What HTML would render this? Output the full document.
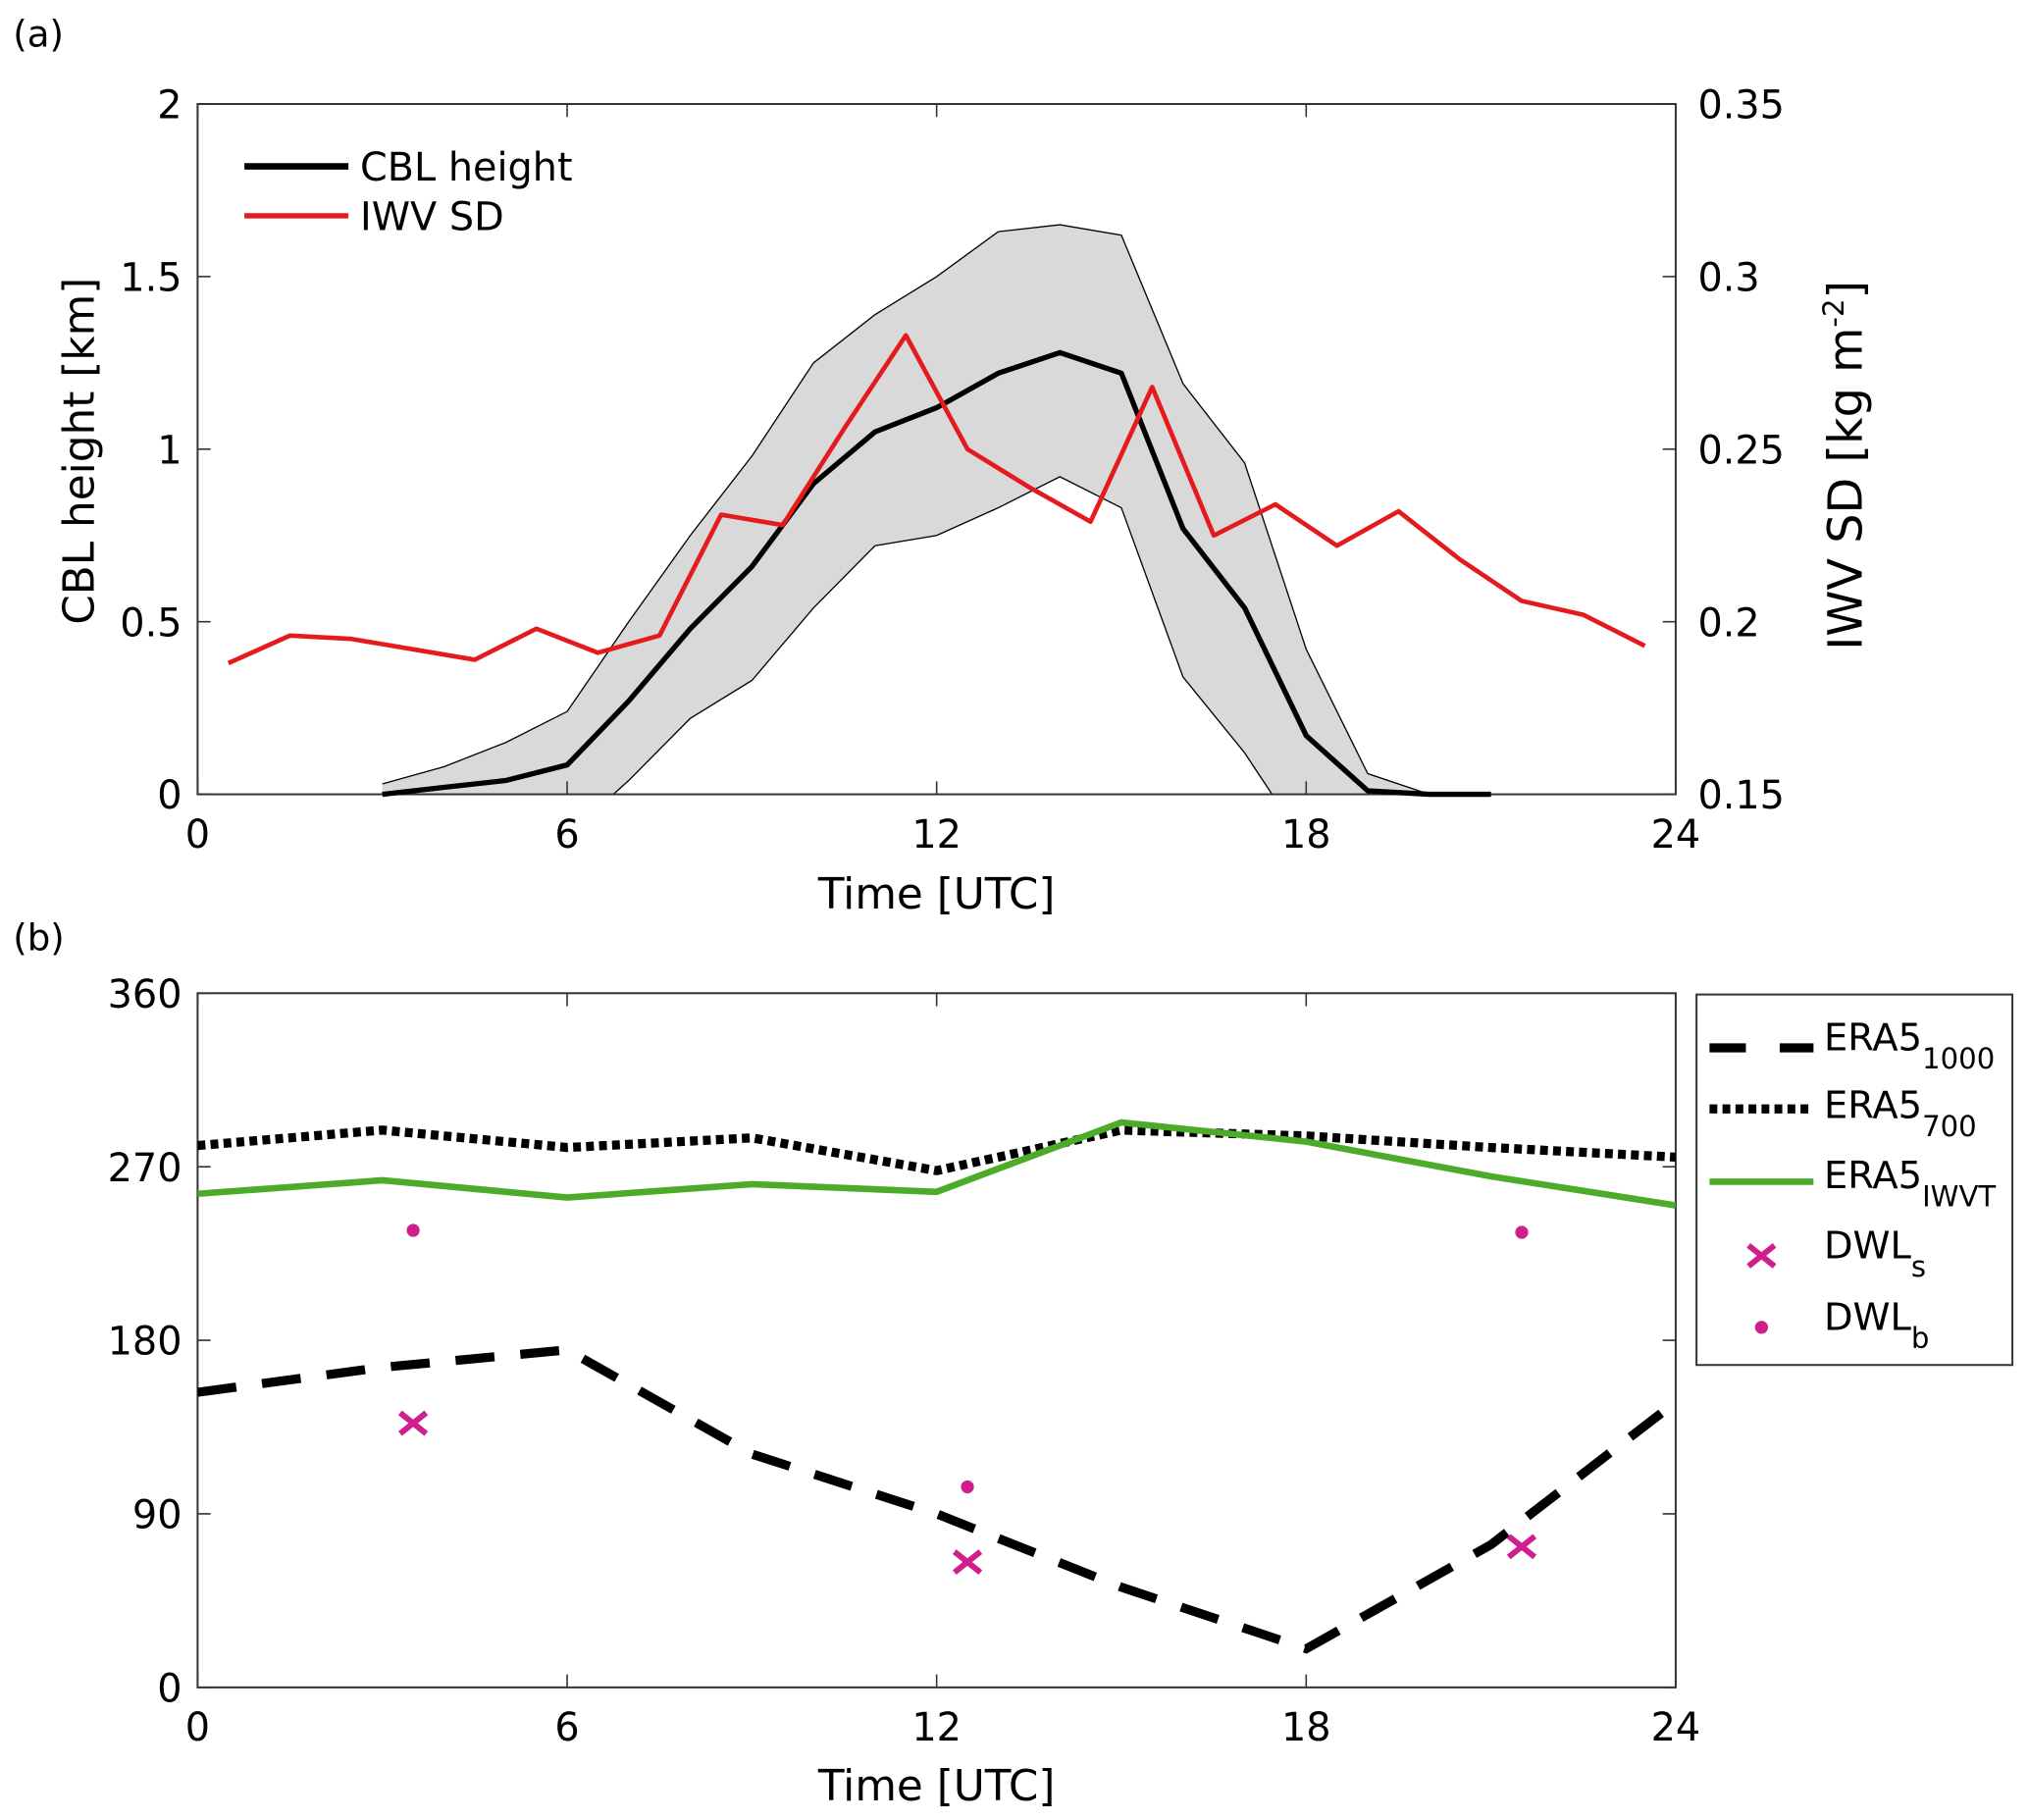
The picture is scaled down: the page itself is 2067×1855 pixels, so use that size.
<!DOCTYPE html>
<html><head><meta charset="utf-8"><style>
html,body{margin:0;padding:0;background:#fff;}
svg{display:block;font-family:"DejaVu Sans","Liberation Sans",sans-serif;}
</style></head><body>
<svg id="fig" xmlns="http://www.w3.org/2000/svg" width="2067" height="1855" viewBox="0 0 1560 1400">
<defs>
<clipPath id="clipA"><rect x="152" y="80" width="1137" height="531"/></clipPath>
<clipPath id="clipB"><rect x="152" y="764" width="1137" height="534"/></clipPath>
</defs>
<rect width="1560" height="1400" fill="#fff"/>
<text x="10" y="36" font-size="28">(a)</text>
<text x="10" y="731" font-size="28">(b)</text>
<g id="gA"></g>
<g id="gB"></g>
</svg>
<script>
// Panel (a) data
const cblHours = [3,4,5,6,7,8,9,10,11,12,13,14,15,16,17,18,19,20,21];
const cblMean  = [0,0.02,0.04,0.085,0.27,0.48,0.66,0.9,1.05,1.12,1.22,1.28,1.22,0.77,0.54,0.17,0.01,0,0];
const cblUpper = [0.03,0.08,0.15,0.24,0.5,0.75,0.98,1.25,1.39,1.5,1.63,1.65,1.62,1.19,0.96,0.42,0.06,0,0];
const cblLower = [0,0,-0.05,-0.12,0.04,0.22,0.33,0.54,0.72,0.75,0.83,0.92,0.83,0.34,0.12,-0.15,-0.2,-0.2,-0.2];
const iwvHours = [0.5,1.5,2.5,3.5,4.5,5.5,6.5,7.5,8.5,9.5,10.5,11.5,12.5,13.5,14.5,15.5,16.5,17.5,18.5,19.5,20.5,21.5,22.5,23.5];
const iwvSD    = [0.188,0.196,0.195,0.192,0.189,0.198,0.191,0.196,0.231,0.228,0.256,0.283,0.250,0.239,0.229,0.268,0.225,0.234,0.222,0.232,0.218,0.206,0.202,0.193];
const xTicks = [0,6,12,18,24];
const yTicksA = [0,0.5,1,1.5,2];
const yTickLabelsA = ["0","0.5","1","1.5","2"];
const yTicksA2 = [0.15,0.2,0.25,0.3,0.35];
const yTickLabelsA2 = ["0.15","0.2","0.25","0.3","0.35"];
// Panel (b) data
const eraHours = [0,3,6,9,12,15,18,21,24];
const era1000 = [153,166,175,121,90,52,20,74,148];
const era700  = [281,289,280,285,268,289,286,280,275];
const eraIWVT = [256,263,254,261,257,293,283,265,250];
const dwlHours = [3.5,12.5,21.5];
const dwlS = [137,65,73];
const dwlB = [237,104,236];
const yTicksB = [0,90,180,270,360];

const NS="http://www.w3.org/2000/svg";
const L=152,R=1289;
const AT=80,AB=611,BT=764,BB=1298;
const x=h=>L+(R-L)*h/24;
const yA=v=>AB-(AB-AT)*v/2;
const yA2=v=>AB-(AB-AT)*(v-0.15)/0.2;
const yB=v=>BB-(BB-BT)*v/360;
function mk(tag,attrs,parent){const e=document.createElementNS(NS,tag);for(const k in attrs)e.setAttribute(k,attrs[k]);parent.appendChild(e);return e;}
function pts(xs,ys,fy){return xs.map((h,i)=>x(h).toFixed(1)+","+fy(ys[i]).toFixed(1)).join(" ");}

const gA=document.getElementById('gA'), gB=document.getElementById('gB');

// ---- Panel A ----
let band=mk('polygon',{points:pts(cblHours,cblUpper,yA)+" "+pts(cblHours.slice().reverse(),cblLower.slice().reverse(),yA),fill:'#d9d9d9',stroke:'none','clip-path':'url(#clipA)'},gA);


let up=mk('polyline',{points:pts(cblHours.slice(0,18),cblUpper.slice(0,18),yA),fill:'none',stroke:'#000','stroke-width':1,'clip-path':'url(#clipA)'},gA);


let lo=mk('polyline',{points:pts(cblHours,cblLower,yA),fill:'none',stroke:'#000','stroke-width':1,'clip-path':'url(#clipA)'},gA);


let fr=mk('rect',{x:L,y:AT,width:R-L,height:AB-AT,fill:'none',stroke:'#333','stroke-width':1.5},gA);


let cbl=mk('polyline',{points:pts(cblHours,cblMean,yA),fill:'none',stroke:'#000','stroke-width':4,'stroke-linejoin':'round'},gA);


let iwv=mk('polyline',{points:pts(iwvHours,iwvSD,yA2),fill:'none',stroke:'#e41a1c','stroke-width':3.5,'stroke-linejoin':'round'},gA);



function xAxis(g,yb,yt,lblY){
  xTicks.forEach(t=>{
    let l=mk('path',{d:`M${x(t)},${yb}v-10M${x(t)},${yt}v10`,stroke:'#333','stroke-width':1.2},g);
    
    
    let tx=mk('text',{x:x(t),y:yb+41,'font-size':30,'text-anchor':'middle'},g);tx.textContent=String(t);
    
    
  });
  let ti=mk('text',{x:x(12),y:lblY,'font-size':33,'text-anchor':'middle'},g);ti.textContent='Time [UTC]';
  
  
}
xAxis(gA,AB,AT,699);
yTicksA.forEach((t,i)=>{
  let l=mk('path',{d:`M${L},${yA(t)}h10`,stroke:'#333','stroke-width':1.2},gA);
  
  
  let tx=mk('text',{x:140,y:yA(t)+11,'font-size':30,'text-anchor':'end'},gA);tx.textContent=yTickLabelsA[i];
  
  
});
yTicksA2.forEach((t,i)=>{
  let l=mk('path',{d:`M${R},${yA2(t)}h-10`,stroke:'#333','stroke-width':1.2},gA);
  
  
  let tx=mk('text',{x:1306,y:yA2(t)+11,'font-size':30},gA);tx.textContent=yTickLabelsA2[i];
  
  
});
let yt=mk('text',{transform:'translate(72,347) rotate(-90)','font-size':33,'text-anchor':'middle'},gA);yt.textContent='CBL height [km]';


let yt2=mk('text',{transform:'translate(1432,358) rotate(-90)','font-size':36,'text-anchor':'middle'},gA);
yt2.innerHTML='IWV SD [kg m<tspan font-size="22" dy="-14">-2</tspan><tspan dy="14">]</tspan>';


// legend A
[[128,'#000','CBL height',5],[166,'#e41a1c','IWV SD',4]].forEach(([yy,c,txt,w])=>{
  let l=mk('line',{x1:188,x2:268,y1:yy,y2:yy,stroke:c,'stroke-width':w},gA);
  
  
  let t=mk('text',{x:277,y:yy+11,'font-size':30},gA);t.textContent=txt;
  
  
});

// ---- Panel B ----
let frB=mk('rect',{x:L,y:BT,width:R-L,height:BB-BT,fill:'none',stroke:'#333','stroke-width':1.5},gB);


let e7=mk('polyline',{points:pts(eraHours,era700,yB),fill:'none',stroke:'#000','stroke-width':7,'stroke-dasharray':'6 4','clip-path':'url(#clipB)'},gB);


let eI=mk('polyline',{points:pts(eraHours,eraIWVT,yB),fill:'none',stroke:'#4dab2a','stroke-width':5,'stroke-linejoin':'round','clip-path':'url(#clipB)'},gB);


let e1=mk('polyline',{points:pts(eraHours,era1000,yB),fill:'none',stroke:'#000','stroke-width':7,'stroke-dasharray':'30 20','clip-path':'url(#clipB)'},gB);


const mag='#d01f8c';
dwlHours.forEach((h,i)=>{
  const cx=x(h),cy=yB(dwlS[i]);
  let m=mk('path',{d:`M${cx-10},${cy-8}L${cx+10},${cy+8}M${cx-10},${cy+8}L${cx+10},${cy-8}`,stroke:mag,'stroke-width':4.5},gB);
  
  
  let d=mk('circle',{cx:cx,cy:yB(dwlB[i]),r:5,fill:mag},gB);
  
  
});
xAxis(gB,BB,BT,1385);
yTicksB.forEach(t=>{
  let l=mk('path',{d:`M${L},${yB(t)}h10M${R},${yB(t)}h-10`,stroke:'#333','stroke-width':1.2},gB);
  
  
  let tx=mk('text',{x:140,y:yB(t)+11,'font-size':30,'text-anchor':'end'},gB);tx.textContent=String(t);
  
  
});
// legend B
let lg=mk('g',{},gB);


let lb=mk('rect',{x:1305,y:765,width:243,height:285,fill:'#fff',stroke:'#333','stroke-width':1.5},lg);


const legY=[806,858,912,966,1021];
const legMain=['ERA5','ERA5','ERA5','DWL','DWL'];
const legSub=['1000','700','IWVT','s','b'];
let l1=mk('line',{x1:1315,x2:1395,y1:legY[0],y2:legY[0],stroke:'#000','stroke-width':7,'stroke-dasharray':'28 26'},lg);


let l2=mk('line',{x1:1315,x2:1395,y1:legY[1]-5,y2:legY[1]-5,stroke:'#000','stroke-width':7,'stroke-dasharray':'6 4'},lg);


let l3=mk('line',{x1:1315,x2:1395,y1:legY[2]-3,y2:legY[2]-3,stroke:'#4dab2a','stroke-width':5},lg);


let l4=mk('path',{d:`M1345,${legY[3]-8}L1365,${legY[3]+8}M1345,${legY[3]+8}L1365,${legY[3]-8}`,stroke:mag,'stroke-width':4.5},lg);


let l5=mk('circle',{cx:1355,cy:legY[4],r:5,fill:mag},lg);


legMain.forEach((m,i)=>{
  let t=mk('text',{x:1403,y:legY[i]+2,'font-size':29},lg);
  t.innerHTML=m+'<tspan font-size="22" dy="14">'+legSub[i]+'</tspan>';
  
  
});
</script>
</body></html>
